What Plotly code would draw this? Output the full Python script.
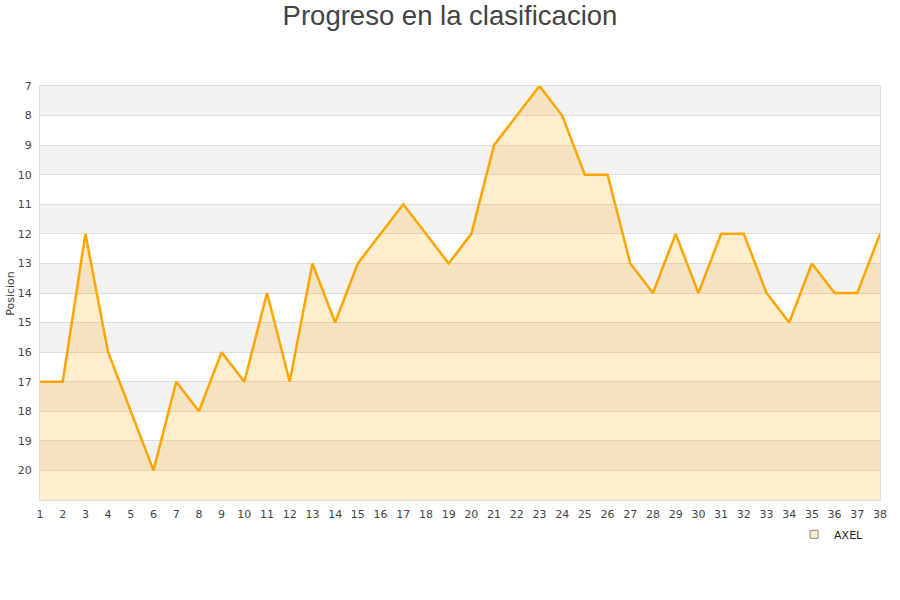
import plotly.graph_objects as go

## DATA
jornadas = list(range(1, 39))
posiciones = [17, 17, 12, 16, 18, 20, 17, 18, 16, 17,
              14, 17, 13, 15, 13, 12, 11, 12, 13, 12,
              9, 8, 7, 8, 10, 10, 13, 14, 12, 14,
              12, 12, 14, 15, 13, 14, 14, 12]
jugador = 'AXEL'
y_ticks = list(range(7, 21))
y_top = 7
y_floor = 21   # bottom of the axis, the area is filled down to here

fig = go.Figure()

# invisible base so the area can be filled down to the floor (axis is reversed)
fig.add_trace(go.Scatter(x=jornadas, y=[y_floor] * len(jornadas), mode='lines',
                         line=dict(width=0), showlegend=False, hoverinfo='skip'))

fig.add_trace(go.Scatter(x=jornadas, y=posiciones, mode='lines', name=jugador,
                         line=dict(color='#ffa500', width=2.5),
                         fill='tonexty', fillcolor='rgba(255,165,0,0.2)',
                         showlegend=False))

# legend entry with a square marker like the original
fig.add_trace(go.Scatter(x=[None], y=[None], mode='markers', name=jugador,
                         marker=dict(symbol='square', size=8, color='#feebc9',
                                     line=dict(color='#888', width=1))))

# alternating grey bands
for v in range(y_top, y_floor, 2):
    fig.add_shape(type='rect', xref='paper', x0=0, x1=1, yref='y', y0=v, y1=v + 1,
                  fillcolor='#f2f2f2', line_width=0, layer='below')

# y axis title placed by hand
fig.add_annotation(text='Posicion', textangle=-90, xref='paper', yref='paper',
                   x=-0.036, y=0.5, xanchor='center', yanchor='middle', showarrow=False,
                   font=dict(family='DejaVu Sans', size=11, color='#444'))

fig.update_layout(
    width=900, height=600,
    paper_bgcolor='white', plot_bgcolor='white',
    margin=dict(l=40, r=20, t=86, b=100),
    title=dict(text='Progreso en la clasificacion', x=0.5, xanchor='center', y=0.975, yanchor='middle',
               font=dict(family='Liberation Sans, Arial', size=27.5, color='#444')),
    font=dict(family='DejaVu Sans', size=11, color='#444'),
    legend=dict(orientation='h', x=0.987, xanchor='right', y=-0.048, yanchor='top',
                font=dict(family='DejaVu Sans', size=11, color='#222')),
)
fig.update_xaxes(range=[1, 38], tickmode='array', tickvals=jornadas, showgrid=False,
                 showline=True, linecolor='#ddd', mirror=True, zeroline=False, ticks='',
                 ticklabelstandoff=4, automargin=False, tickfont=dict(size=11, color='#444'))
fig.update_yaxes(range=[y_floor, y_top], tickmode='array', tickvals=y_ticks,
                 showgrid=True, gridcolor='#dddddd', gridwidth=1,
                 showline=True, linecolor='#ddd', mirror=True, zeroline=False, ticks='',
                 ticklabelstandoff=5, automargin=False,
                 tickfont=dict(size=11, color='#444'))

# drop the page's default body margin so the figure sits at the top-left corner
fig.write_html("out.html", config={'displayModeBar': False},
               post_script="document.body.style.margin='0';")
